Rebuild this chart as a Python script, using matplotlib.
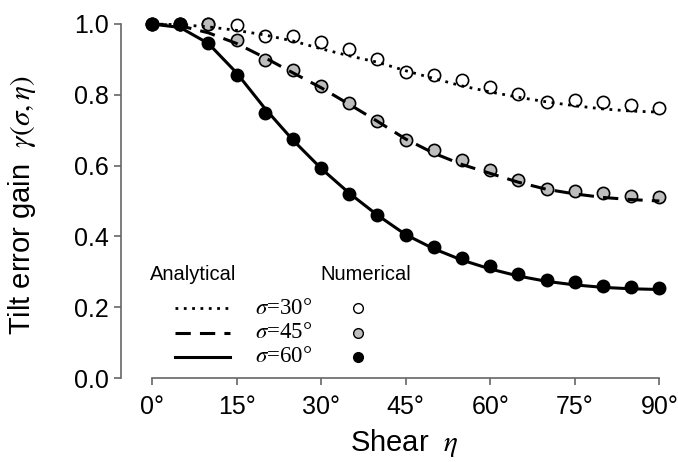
import matplotlib
matplotlib.use('Agg')
import matplotlib.pyplot as plt
from matplotlib.lines import Line2D

plt.rcParams['font.family'] = ['Liberation Sans', 'DejaVu Sans']
plt.rcParams['mathtext.fontset'] = 'stix'

# shear angle (deg)
eta = [0, 5, 10, 15, 20, 25, 30, 35, 40, 45, 50, 55, 60, 65, 70, 75, 80, 85, 90]

# numerical results (markers)
num30 = [1.0, 1.0, 1.0, 0.997, 0.966, 0.966, 0.950, 0.928, 0.900, 0.865, 0.856,
         0.842, 0.823, 0.802, 0.780, 0.785, 0.780, 0.771, 0.762]
num45 = [1.0, 1.0, 0.999, 0.955, 0.898, 0.870, 0.826, 0.778, 0.726, 0.673, 0.644,
         0.617, 0.587, 0.559, 0.535, 0.529, 0.523, 0.515, 0.510]
num60 = [1.0, 1.0, 0.947, 0.856, 0.749, 0.674, 0.594, 0.521, 0.460, 0.403, 0.370,
         0.340, 0.316, 0.293, 0.278, 0.270, 0.261, 0.257, 0.253]

# analytical curves (lines)
ana30 = [1.0, 0.998, 0.992, 0.982, 0.969, 0.952, 0.930, 0.910, 0.892, 0.868, 0.846,
         0.825, 0.808, 0.793, 0.780, 0.769, 0.760, 0.754, 0.751]
ana45 = [1.0, 0.995, 0.975, 0.945, 0.905, 0.862, 0.820, 0.773, 0.725, 0.675, 0.635,
         0.603, 0.578, 0.553, 0.533, 0.520, 0.510, 0.504, 0.500]
ana60 = [1.0, 0.990, 0.945, 0.862, 0.762, 0.672, 0.592, 0.522, 0.460, 0.405, 0.365,
         0.333, 0.308, 0.288, 0.273, 0.263, 0.256, 0.252, 0.250]

sigma_labels = [r'$\sigma$=30°', r'$\sigma$=45°', r'$\sigma$=60°']
xticks = [0, 15, 30, 45, 60, 75, 90]
yticks = [0.0, 0.2, 0.4, 0.6, 0.8, 1.0]

W, H = 678, 462
fig = plt.figure(figsize=(W / 100, H / 100), dpi=100)
ax = fig.add_axes([121 / W, 1 - 378 / H, (670.6 - 121) / W, (378 - 16.9) / H])

styles = [
    dict(ls=(0, (1, 2)), lw=2.0, mfc='white'),
    dict(ls=(0, (5, 3)), lw=2.2, mfc='#bdbdbd'),
    dict(ls='-', lw=2.2, mfc='black'),
]

# markers first, lines on top
for i, (num, st) in enumerate(zip([num30, num45, num60], styles)):
    ax.plot(eta, num, ls='none', marker='o', ms=8.8, mfc=st['mfc'], mec='black',
            mew=1.2, zorder=2 + i, clip_on=False)
for i, (ana, st) in enumerate(zip([ana30, ana45, ana60], styles)):
    ax.plot(eta, ana, color='black', ls=st['ls'], lw=st['lw'],
            dash_capstyle='butt', zorder=5 + i, clip_on=False)

ax.set_xlim(-5.5, 92)
ax.set_ylim(0, 1.02)
for s in ['top', 'right']:
    ax.spines[s].set_visible(False)
ax.spines['left'].set_bounds(0, 1)
ax.spines['bottom'].set_bounds(0, 90)
for s in ['left', 'bottom']:
    ax.spines[s].set_color('#666666')
    ax.spines[s].set_linewidth(1.2)
ax.tick_params(colors='#666666', labelcolor='black', labelsize=18, length=5, width=1.2)
ax.tick_params(axis='y', pad=4)
ax.tick_params(axis='x', pad=7)
ax.set_xticks(xticks)
ax.set_xticklabels([f'{t}°' for t in xticks])
ax.set_yticks(yticks)
ax.set_yticklabels([f'{t:.1f}' for t in yticks])

fig.text(22 / W, 1 - 205 / H, r'Tilt error gain  $\gamma(\sigma,\eta)$', rotation=90,
         ha='center', va='center', fontsize=21)
fig.text(404 / W, 1 - 443 / H, r'Shear  $\eta$', ha='center', va='center', fontsize=21)

# custom legend
def fx(px):
    return px / W

def fy(py):
    return 1 - py / H

fig.text(fx(150), fy(275), 'Analytical', ha='left', va='center', fontsize=14.5)
fig.text(fx(320), fy(275), 'Numerical', ha='left', va='center', fontsize=14.5)
rows = [308, 333, 357]
for py, st, lab in zip(rows, styles, sigma_labels):
    fig.add_artist(Line2D([fx(175), fx(230)], [fy(py), fy(py)], color='black',
                          ls=st['ls'], lw=st['lw'], dash_capstyle='butt'))
    fig.text(fx(255), fy(py), lab, ha='left', va='center', fontsize=16.5,
             family='Liberation Serif')
    fig.add_artist(Line2D([fx(358)], [fy(py)], ls='none', marker='o', ms=7,
                          mfc=st['mfc'], mec='black', mew=1.0))

fig.savefig('out.png', dpi=100)
